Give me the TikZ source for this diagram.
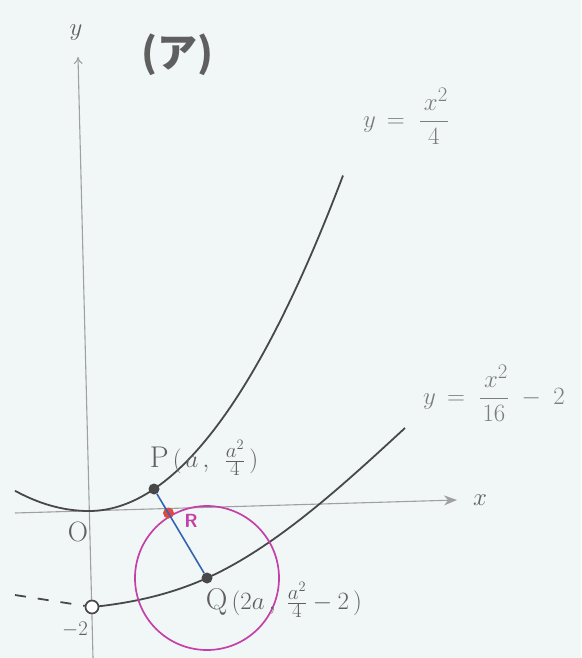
\documentclass[tikz,border=0pt]{standalone}
\usepackage{fontspec}
\newfontfamily\cjk{Noto Sans CJK JP}
\usetikzlibrary{arrows.meta}
\definecolor{paper}{RGB}{241,247,247}
\definecolor{curvec}{RGB}{72,72,72}
\definecolor{axisc}{RGB}{160,160,160}
\definecolor{circc}{RGB}{196,64,168}
\definecolor{segc}{RGB}{52,100,176}
\definecolor{rptc}{RGB}{222,74,64}
\definecolor{inkc}{RGB}{95,95,95}
\definecolor{inkl}{RGB}{125,125,125}
\tikzset{
  axisline/.style={axisc, line width=1.1pt},
  curveline/.style={curvec, line width=1.8pt},
  dot/.style={circle, fill=curvec, inner sep=0pt, minimum size=11pt},
  odot/.style={circle, draw=curvec, fill=white, line width=1.7pt, inner sep=0pt, minimum size=13pt},
  rdot/.style={circle, fill=rptc, inner sep=0pt, minimum size=11pt},
  lab/.style={inkc, inner sep=0pt},
  flab/.style={inkl, inner sep=0pt},
}
\begin{document}
\begin{tikzpicture}[x=1pt,y=-1pt]
\fill[paper] (0,0) rectangle (581,658);
\useasboundingbox (0,0) rectangle (581,658);
% axes
\coordinate (xl) at (15,513);
\coordinate (xr) at (457,500);
\coordinate (yb) at (93,658);
\coordinate (yt) at (78,57);
\draw[axisline,-{Stealth[length=13pt,width=10pt]}] (xl) -- (xr);
\draw[axisline,-{To[length=7pt,width=9pt]}] (yb) -- (yt);
% points on curves
\coordinate (p) at (154,489);
\coordinate (q) at (207,578);
\coordinate (m) at (92,607);
\coordinate (e2) at (405,428);
% upper curve y = x^2/4
\draw[curveline] plot[domain=15:89, samples=40] (\x, {511-37*((\x-89)/100)^2})
  -- plot[domain=89:343, samples=100] (\x, {511-52*((\x-89)/100)^2});
% lower curve y = x^2/16 - 2
\draw[curveline] (m) .. controls (130,603.2) and (169,595.1) .. (q)
                     .. controls (277,546.5) and (345,483.2) .. (e2);
% points
\node[odot] (M) at (m) {};
\coordinate (dl) at (15,595);
\draw[curvec, line width=1.8pt, dash pattern=on 11pt off 12pt] (dl) -- (M);
\node[dot] (P) at (p) {};
\node[dot] (Q) at (q) {};
\draw[circc, line width=1.7pt] (Q.center) circle[radius=72];
\node[rdot] (R) at (168.5,513) {};
\draw[segc, line width=1.6pt] (P) -- (Q);
% labels
\node[lab] (ta) at (177,55) {\cjk\bfseries\fontsize{40}{42}\selectfont (ア)};
\node[lab] (ly) at (76,33) {\fontsize{40}{40}\selectfont $y$};
\node[lab] (lx) at (480,500) {\fontsize{44}{44}\selectfont $x$};
\node[lab] (lO) at (78,532) {\fontsize{28}{28}\selectfont O};
\node[lab] (lm) at (75,630) {\fontsize{20}{20}\selectfont $-2$};
\node[inner sep=0pt, text=circc] (lR) at (191,521) {\sffamily\bfseries\fontsize{19}{19}\selectfont R};
\node[lab] (lP) at (204,458) {\fontsize{30}{30}\selectfont $\mathrm{P}\,(\,a\,,\;\,\frac{a^2}{4}\,)$};
\node[lab] (lQ) at (284,600) {\fontsize{30}{30}\selectfont $\mathrm{Q}\,(2a\,,\;\frac{a^2}{4}-2\,)$};
\node[flab] (f1) at (406,116) {\fontsize{32}{32}\selectfont $y\,=\;\displaystyle\frac{\,x^2}{4}$};
\node[flab] (f2) at (494,393) {\fontsize{28}{28}\selectfont $y\,=\;\displaystyle\frac{\,x^2}{16}\;-\;2$};
\end{tikzpicture}
\end{document}
